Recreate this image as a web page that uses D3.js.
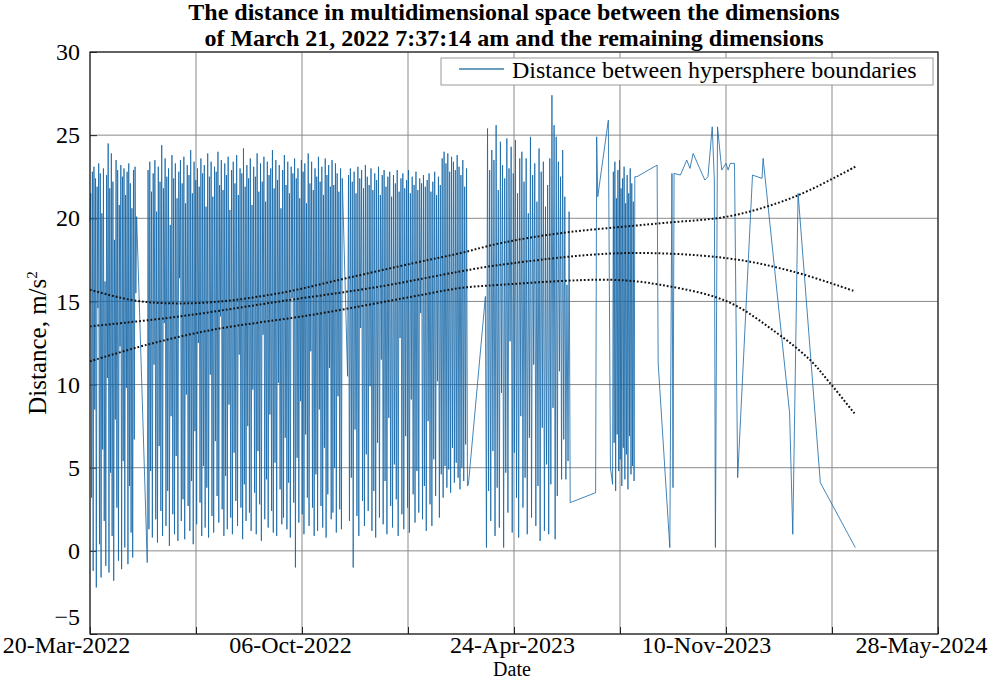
<!DOCTYPE html>
<html>
<head>
<meta charset="utf-8">
<script src="https://cdn.jsdelivr.net/npm/d3@7"></script>
<style>
  body { margin: 0; background: #fff; }
  svg text { font-family: "Liberation Serif", "Times New Roman", serif; fill: #000; }
</style>
</head>
<body>
<div id="chart"></div>
<script>
// ---- data (day offsets from 20-Mar-2022, values in m/s^2) ----
const startDay = "2022-03-20";
const xTickLabels = ["20-Mar-2022", "06-Oct-2022", "24-Apr-2023", "10-Nov-2023", "28-May-2024"];
const yTicks = [-5, 0, 5, 10, 15, 20, 25, 30];

// dense measurement sessions: [first day, last day] and readings spread over them
const s1Days = [0, 44];
const s1Values = [19.8, 21.5, 3.2, 22.8, -1.2, 23.1, 8.5, 22.4, -2.2, 21.9, 14.6, 23.3, 0.4, 22.7, -1.6, 20.3, 6.1, 23.0, 1.8, 16.2,
  -0.9, 22.6, 10.4, 24.5, -1.3, 21.8, 4.7, 23.9, 0.9, 22.2, -1.8, 18.7, 7.9, 23.5, 2.6, 22.9, -0.6, 20.8, 12.3, 23.2,
  -1.1, 22.5, 5.4, 23.0, 0.2, 21.4, 9.8, 22.8, -0.8, 23.3, 3.9, 22.1, 1.1, 20.6, -0.4, 22.9, 6.7, 23.1, 15.5, 20.1];

const s2Days = [54, 238];
const s2Values = [-0.7, 22.9, 1.3, 23.4, 4.8, 21.6, 0.8, 22.7, 11.2, 23.5, 1.9, 20.4, 0.5, 23.1, 6.3, 22.2, 2.4, 24.4, 0.9, 21.8,
  13.7, 23.6, 1.5, 22.5, 3.6, 23.0, 0.3, 19.6, 8.1, 23.8, 2.2, 22.4, 1.0, 23.3, 5.7, 21.2, 0.6, 22.8, 16.4, 23.5,
  1.8, 22.1, 3.1, 23.7, 0.7, 20.9, 9.4, 23.2, 2.7, 22.6, 1.2, 24.1, 4.2, 21.5, 0.4, 23.4, 7.2, 22.3, 1.6, 23.0,
  12.5, 21.9, 2.9, 23.6, 0.9, 22.7, 5.1, 23.2, 1.4, 20.7, 3.8, 23.9, 0.8, 22.5, 10.6, 23.4, 2.1, 21.3, 1.1, 23.1,
  6.6, 22.8, 3.3, 24.0, 1.7, 22.0, 14.1, 23.5, 2.5, 21.7, 0.9, 23.3, 4.5, 22.6, 1.3, 23.7, 8.8, 20.5, 2.0, 22.9,
  1.0, 23.4, 5.9, 22.1, 3.0, 23.8, 1.5, 21.4, 11.8, 23.0, 2.6, 22.7, 0.7, 24.2, 4.0, 21.9, 1.8, 23.2, 7.5, 22.4,
  2.3, 23.6, 1.2, 20.8, 9.7, 23.1, 3.5, 22.5, 1.0, 23.9, 6.0, 21.6, 2.8, 23.3, 0.6, 22.2, 13.0, 23.7, 1.9, 21.0,
  4.3, 23.4, 1.4, 22.6, 8.2, 23.0, 2.4, 24.1, 1.1, 21.8, 5.3, 23.5, 0.9, 22.3, 10.1, 23.2, 3.7, 20.6, 1.6, 22.9,
  2.0, 23.8, 6.8, 22.0, 1.3, 23.4, 4.1, 21.5, 0.8, 23.1, 15.2, 22.7, 2.9, 23.6, -1.0, 22.4, 5.6, 23.0, 1.7, 21.2,
  9.0, 23.5, 2.2, 22.8, 1.0, 23.3, 7.0, 20.9, 3.2, 23.9, 1.5, 22.1, 12.0, 23.4, 2.6, 21.7, 0.9, 23.0, 4.6, 22.5,
  1.2, 23.7, 8.5, 22.2, 2.7, 23.1, 1.4, 21.4, 6.2, 23.6, 0.8, 22.6, 3.4, 23.2, 11.0, 21.9, 1.9, 23.5, 2.3, 22.0,
  5.0, 23.3, 1.1, 22.7, 9.3, 21.6, 2.5, 23.0, 1.3, 22.4];

const s3Days = [243, 357];
const s3Values = [10.5, 22.6, 1.8, 23.0, 4.4, 22.2, -1.0, 22.8, 7.3, 21.5, 2.1, 23.1, 0.9, 22.4, 13.4, 22.9, 3.0, 21.8, 1.5, 23.2,
  5.8, 22.5, 2.4, 22.0, 9.9, 23.0, 1.2, 21.7, 3.6, 22.7, 0.8, 22.3, 6.5, 23.1, 2.0, 21.4, 11.5, 22.6, 1.6, 22.9,
  4.2, 21.9, 1.0, 22.5, 8.0, 22.8, 2.7, 21.3, 1.4, 22.6, 5.2, 22.1, 3.1, 22.9, 0.9, 21.6, 12.8, 22.4, 2.2, 22.7,
  1.3, 21.8, 6.9, 22.3, 2.6, 22.9, 1.1, 21.5, 9.1, 22.5, 3.4, 22.0, 1.7, 22.8, 4.8, 21.7, 2.3, 22.4, 14.3, 22.1,
  1.9, 22.6, 3.9, 21.9, 1.2, 22.3, 7.8, 22.7, 2.8, 21.6, 1.5, 22.2, 5.5, 22.8, 3.3, 21.4, 10.2, 22.5, 2.0, 22.0,
  4.6, 23.6, 3.2, 24.0, 5.1, 23.3, 3.8, 23.9, 4.9, 22.8, 3.5, 23.7, 6.2, 23.4, 4.1, 22.9, 5.3, 23.8, 4.4, 23.1,
  3.7, 22.6, 5.0, 23.5, 4.2, 21.9, 6.4, 23.0, 3.9, 4.0];

const s4Days = [373, 453];
const s4Values = [15.3, 0.2, 25.4, 3.6, 22.9, 1.8, 24.1, 6.0, 23.5, 0.9, 25.6, 3.8, 21.7, 1.4, 24.6, 9.5, 23.2, 0.2, 22.4, 4.7,
  24.8, 2.3, 23.0, 12.6, 24.3, 1.1, 22.7, 5.9, 24.7, 3.2, 21.5, 0.8, 23.6, 8.1, 24.0, 2.6, 22.2, 4.4, 23.6, 1.0,
  20.3, 6.8, 24.9, 2.0, 22.6, 11.2, 23.3, 1.5, 21.0, 3.9, 24.2, 0.6, 22.8, 7.4, 23.4, 1.2, 20.7, 5.2, 22.0, 1.0,
  23.6, 4.0, 27.4, 8.6, 25.6, 0.7, 24.9, 3.3, 23.4, 10.8, 22.5, 4.3, 24.1, 6.7, 21.3, 4.3, 16.0, 5.4, 20.4, 2.9];

const gapDays = [477, 478, 479, 489, 491];
const gapValues = [3.5, 24.9, 21.3, 25.9, 5.0];

const s5Days = [493, 514];
const s5Values = [4.0, 22.8, 6.5, 23.4, 3.6, 21.2, 7.0, 22.9, 4.8, 23.5, 5.5, 21.8, 3.9, 22.4, 6.2, 23.1, 4.3, 20.9, 5.8, 22.6,
  3.7, 21.5, 6.9, 23.0, 4.6, 22.1, 5.1, 21.0, 4.2, 22.5];

const tailDays = [516, 535, 536, 547, 549, 550, 551, 557, 563, 566, 569, 580, 583, 587, 589, 590, 592, 596, 600, 602, 604, 608,
  611, 625, 634, 635, 660, 663, 668, 689, 722];
const tailValues = [22.5, 23.2, 11.3, 0.2, 22.7, 3.8, 22.7, 22.6, 23.5, 23.0, 23.9, 22.3, 22.5, 25.5, 22.3, 0.2, 25.5, 22.9, 23.3, 22.9, 23.3, 23.3,
  4.4, 22.6, 22.4, 23.6, 8.3, 1.0, 21.5, 4.1, 0.2];

// polynomial fit and its bounds, read at a few dates
const upperDays = [0, 38, 69, 116, 179, 242, 305, 349, 387, 443, 538, 601, 648, 679, 722];
const upperValues = [15.7, 15.1, 14.9, 14.96, 15.5, 16.4, 17.3, 17.9, 18.5, 19.1, 19.7, 20.1, 20.9, 21.7, 23.1];
const midDays = [0, 85, 179, 274, 349, 387, 500, 601, 663, 722];
const midValues = [13.5, 14.1, 15.0, 15.9, 16.8, 17.2, 17.9, 17.6, 16.8, 15.6];
const lowerDays = [0, 54, 116, 210, 305, 349, 387, 491, 538, 601, 648, 679, 698, 722];
const lowerValues = [11.4, 12.4, 13.3, 14.2, 15.3, 15.8, 16.0, 16.3, 16.0, 15.0, 13.1, 11.5, 10.1, 8.2];

// ---- helpers ----
const t0 = d3.utcParse("%Y-%m-%d")(startDay);
const parseTick = d3.utcParse("%d-%b-%Y");
const dayToDate = d => new Date(t0.getTime() + d * 864e5);

function session(days, values) {
  const step = (days[1] - days[0]) / (values.length - 1);
  return values.map((v, i) => ({ date: dayToDate(days[0] + i * step), value: v }));
}
function points(days, values) {
  return values.map((v, i) => ({ date: dayToDate(days[i]), value: v }));
}

const series = [].concat(
  session(s1Days, s1Values),
  session(s2Days, s2Values),
  session(s3Days, s3Values),
  session(s4Days, s4Values),
  points(gapDays, gapValues),
  session(s5Days, s5Values),
  points(tailDays, tailValues)
);

// ---- layout ----
const width = 990, height = 681;
const margin = { left: 90, right: 52, top: 52, bottom: 47 };
const fontSize = 24;

const svg = d3.select("#chart").append("svg")
  .attr("width", width)
  .attr("height", height);

const tickDates = xTickLabels.map(parseTick);
const x = d3.scaleUtc()
  .domain([tickDates[0], tickDates[tickDates.length - 1]])
  .range([margin.left, width - margin.right]);
const y = d3.scaleLinear()
  .domain([-5, 30])
  .range([height - margin.bottom, margin.top]);

// grid every 100 days, labels every 200
const gridDates = d3.range(0, 801, 100).map(dayToDate);

const grid = svg.append("g");
grid.selectAll(".gx").data(gridDates).enter().append("line")
  .attr("x1", d => x(d)).attr("x2", d => x(d))
  .attr("y1", y(-5)).attr("y2", y(30))
  .attr("stroke", "#8a8a8a").attr("stroke-width", 1);
grid.selectAll(".gy").data(yTicks).enter().append("line")
  .attr("x1", x.range()[0]).attr("x2", x.range()[1])
  .attr("y1", d => y(d)).attr("y2", d => y(d))
  .attr("stroke", "#8a8a8a").attr("stroke-width", 1);

// axes (inward ticks, MATLAB style)
const labelShift = [-24, -12, -2, -20, -17]; // labels sit a bit left of their ticks in the original
const xAxis = svg.append("g")
  .attr("transform", `translate(0,${y(-5)})`)
  .call(d3.axisBottom(x).tickValues(gridDates).tickSizeInner(-7).tickSizeOuter(0)
    .tickFormat(d => {
      const i = tickDates.findIndex(t => Math.abs(t - d) < 864e5);
      return i >= 0 ? xTickLabels[i] : "";
    }));
xAxis.select(".domain").remove();
xAxis.selectAll("line").attr("stroke", "#222");
xAxis.selectAll("text")
  .attr("font-size", fontSize).attr("dy", 0).attr("y", 19)
  .attr("dx", d => {
    const i = tickDates.findIndex(t => Math.abs(t - d) < 864e5);
    return i >= 0 ? labelShift[i] : 0;
  });

const yAxis = svg.append("g")
  .attr("transform", `translate(${x.range()[0]},0)`)
  .call(d3.axisLeft(y).tickValues(yTicks).tickSizeInner(-7).tickSizeOuter(0));
yAxis.select(".domain").remove();
yAxis.selectAll("line").attr("stroke", "#222");
yAxis.selectAll("text").attr("font-size", fontSize).attr("x", -10)
  .attr("dy", d => d === -5 ? "-0.4em" : "0.32em"); // bottom label raised clear of the date labels
svg.selectAll(".tick text").style("font-family", "'Liberation Serif', 'Times New Roman', serif");

// series
const line = d3.line().x(d => x(d.date)).y(d => y(d.value));
svg.append("path")
  .datum(series)
  .attr("d", line)
  .attr("fill", "none")
  .attr("stroke", "#1466a6")
  .attr("stroke-width", 0.8);

// fit curves
const fitLine = d3.line().curve(d3.curveCatmullRom).x(d => x(d.date)).y(d => y(d.value));
[[upperDays, upperValues], [midDays, midValues], [lowerDays, lowerValues]].forEach(([dd, vv]) => {
  svg.append("path")
    .datum(points(dd, vv))
    .attr("d", fitLine)
    .attr("fill", "none")
    .attr("stroke", "#111")
    .attr("stroke-width", 2)
    .attr("stroke-dasharray", "1.8,2");
});

// box
svg.append("rect")
  .attr("x", x.range()[0]).attr("y", y(30))
  .attr("width", x.range()[1] - x.range()[0])
  .attr("height", y(-5) - y(30))
  .attr("fill", "none").attr("stroke", "#222").attr("stroke-width", 1.2);

// legend
const legend = svg.append("g");
legend.append("rect")
  .attr("x", 441).attr("y", 58).attr("width", 492).attr("height", 27)
  .attr("fill", "#fff").attr("stroke", "#9a9a9a").attr("stroke-width", 1);
legend.append("line")
  .attr("x1", 459).attr("x2", 504).attr("y1", 69).attr("y2", 69)
  .attr("stroke", "#3a7fa6").attr("stroke-width", 1.3);
legend.append("text")
  .attr("x", 512).attr("y", 78)
  .attr("font-size", fontSize)
  .text("Distance between hypersphere boundaries");

// title
const cx = (x.range()[0] + x.range()[1]) / 2;
svg.append("text").attr("x", cx).attr("y", 20).attr("text-anchor", "middle")
  .attr("font-size", fontSize).attr("font-weight", "bold")
  .text("The distance in multidimensional space between the dimensions");
svg.append("text").attr("x", cx).attr("y", 46).attr("text-anchor", "middle")
  .attr("font-size", fontSize).attr("font-weight", "bold")
  .text("of March 21, 2022 7:37:14 am and the remaining dimensions");

// axis labels
svg.append("text").attr("x", 512).attr("y", 676).attr("text-anchor", "middle")
  .attr("font-size", 20).text("Date");
const yl = svg.append("text")
  .attr("transform", `translate(46,${(y(30) + y(-5)) / 2}) rotate(-90)`)
  .attr("text-anchor", "middle")
  .attr("font-size", 25);
yl.append("tspan").text("Distance, m/s");
yl.append("tspan").attr("dy", -9).attr("font-size", 15).text("2");
</script>
</body>
</html>
